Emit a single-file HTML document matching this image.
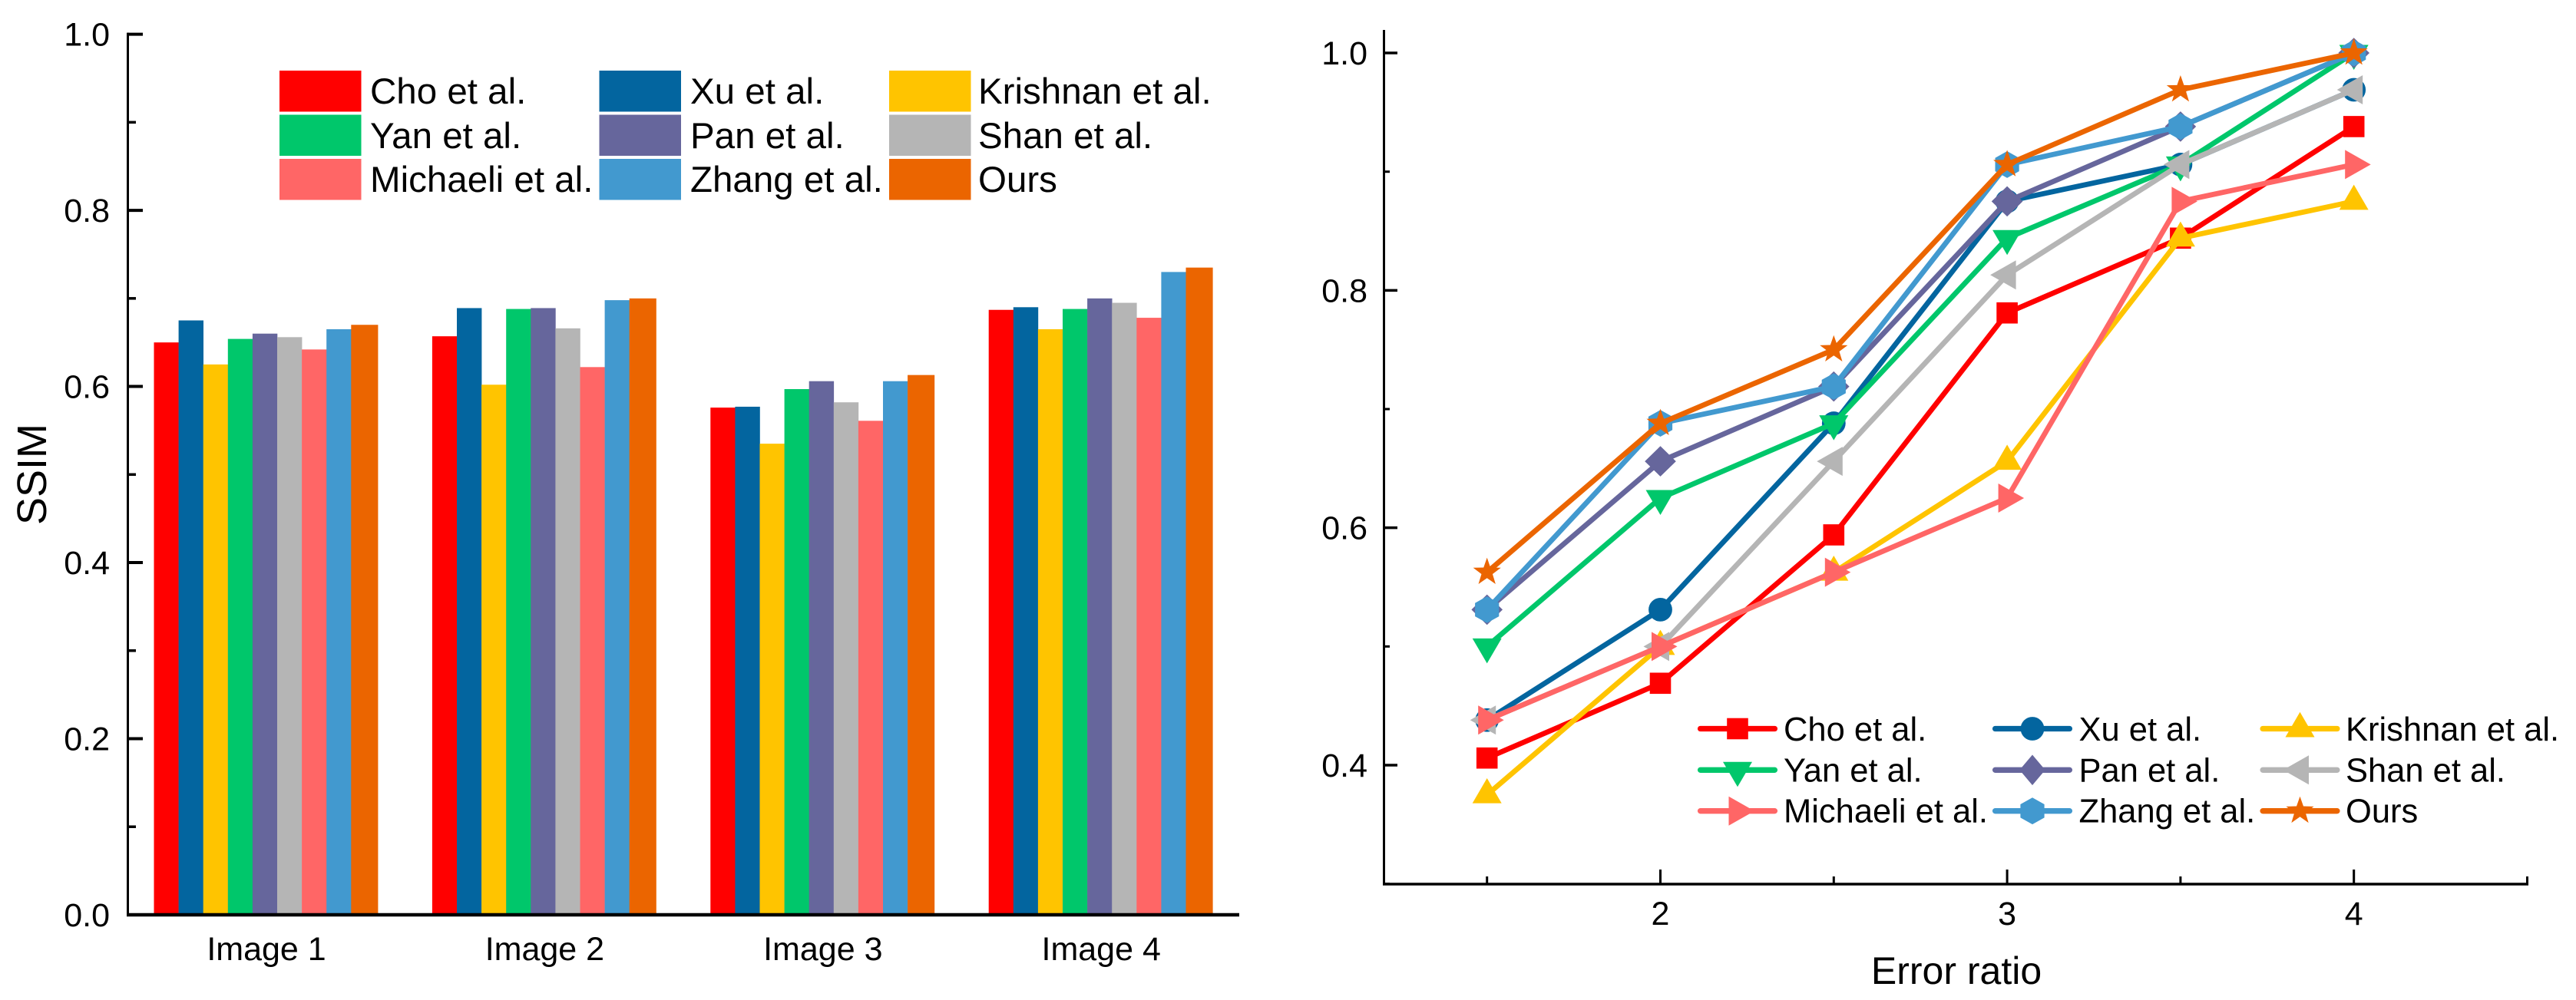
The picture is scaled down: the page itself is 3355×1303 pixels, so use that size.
<!DOCTYPE html>
<html>
<head>
<meta charset="utf-8">
<title>SSIM comparison charts</title>
<style>
html,body{margin:0;padding:0;background:#fff;}
svg{display:block;}
text{font-family:"Liberation Sans",Arial,sans-serif;fill:#000;}
</style>
</head>
<body>
<svg id="figure" xmlns="http://www.w3.org/2000/svg" width="3355" height="1303" viewBox="0 0 3355 1303">
  <g id="bar-chart"></g>
  <g id="line-chart"></g>
</svg>
<script>
// ---- Bar chart data ----
const barCategories = ['Image 1', 'Image 2', 'Image 3', 'Image 4'];
const barCho      = [0.650, 0.657, 0.576, 0.687];
const barXu       = [0.675, 0.689, 0.577, 0.690];
const barKrishnan = [0.625, 0.602, 0.535, 0.665];
const barYan      = [0.654, 0.688, 0.597, 0.688];
const barPan      = [0.660, 0.689, 0.606, 0.700];
const barShan     = [0.656, 0.666, 0.582, 0.695];
const barMichaeli = [0.642, 0.622, 0.561, 0.678];
const barZhang    = [0.665, 0.698, 0.606, 0.730];
const barOurs     = [0.670, 0.700, 0.613, 0.735];
const barTickLabels = ['0.0', '0.2', '0.4', '0.6', '0.8', '1.0'];
const barTickValues = [0, 0.2, 0.4, 0.6, 0.8, 1.0];
const barMinorValues = [0.1, 0.3, 0.5, 0.7, 0.9];

// ---- Line chart data ----
const lineX = [1.5, 2, 2.5, 3, 3.5, 4];
const lineCho      = [0.406, 0.469, 0.594, 0.781, 0.844, 0.938];
const lineXu       = [0.438, 0.531, 0.688, 0.875, 0.906, 0.969];
const lineKrishnan = [0.375, 0.500, 0.5625, 0.656, 0.844, 0.875];
const lineYan      = [0.500, 0.625, 0.688, 0.844, 0.906, 1.000];
const linePan      = [0.531, 0.656, 0.719, 0.875, 0.938, 1.000];
const lineShan     = [0.438, 0.500, 0.656, 0.813, 0.906, 0.969];
const lineMichaeli = [0.438, 0.500, 0.5625, 0.625, 0.875, 0.906];
const lineZhang    = [0.531, 0.688, 0.719, 0.906, 0.938, 1.000];
const lineOurs     = [0.5625, 0.688, 0.750, 0.906, 0.969, 1.000];
const lineYTicks = [0.4, 0.6, 0.8, 1.0];
const lineYTickLabels = ['0.4', '0.6', '0.8', '1.0'];
const lineYMinor = [0.3, 0.5, 0.7, 0.9];
const lineXTicks = [2, 3, 4];
const lineXTickLabels = ['2', '3', '4'];
const lineXMinor = [1.5, 2.5, 3.5, 4.5];

// ---- Series identity ----
const seriesNames = ['Cho et al.', 'Xu et al.', 'Krishnan et al.', 'Yan et al.', 'Pan et al.', 'Shan et al.', 'Michaeli et al.', 'Zhang et al.', 'Ours'];
const seriesColors = ['#FF0000', '#03659F', '#FFC400', '#00C76B', '#66669C', '#B5B5B5', '#FF6666', '#4299CF', '#EB6500'];
const seriesMarkers = ['square', 'circle', 'up', 'down', 'diamond', 'left', 'right', 'hexagon', 'star'];
const barSeries = [barCho, barXu, barKrishnan, barYan, barPan, barShan, barMichaeli, barZhang, barOurs];
const lineSeries = [lineCho, lineXu, lineKrishnan, lineYan, linePan, lineShan, lineMichaeli, lineZhang, lineOurs];

const NS = 'http://www.w3.org/2000/svg';
function mk(tag, attrs, parent) {
  const el = document.createElementNS(NS, tag);
  for (const k in attrs) el.setAttribute(k, attrs[k]);
  parent.appendChild(el);
  return el;
}
function slug(s) { return s.toLowerCase().replace(/[^a-z0-9]+/g, '-').replace(/-$/, ''); }

// ---- Bar chart ----
const barRoot = document.getElementById('bar-chart');
const barY = v => 1192 - v * 1147.4;
const barGroupX = g => 200.5 + g * 362.4;
const barW = 32.1;

barSeries.forEach((vals, s) => {
  vals.forEach((v, g) => {
    const r = mk('rect', {x: barGroupX(g) + s * barW, y: barY(v), width: barW + (s === 8 ? 3 : 0.3), height: barY(0) - barY(v), fill: seriesColors[s]}, barRoot);
    
    
  });
});

const barYAxis = mk('line', {x1: 166.5, x2: 166.5, y1: barY(1) - 2, y2: barY(0) + 2, stroke: '#000', 'stroke-width': 3}, barRoot);


const barXAxis = mk('line', {x1: 165, x2: 1614, y1: 1192, y2: 1192, stroke: '#000', 'stroke-width': 4.5}, barRoot);



barTickValues.forEach((v, i) => {
  const t = mk('line', {x1: 166, x2: 186, y1: barY(v), y2: barY(v), stroke: '#000', 'stroke-width': 4}, barRoot);
  
  
  const l = mk('text', {x: 143, y: barY(v) + 15, 'text-anchor': 'end', 'font-size': 43}, barRoot);
  l.textContent = barTickLabels[i];
  
  
});
barMinorValues.forEach(v => {
  const t = mk('line', {x1: 166, x2: 177, y1: barY(v), y2: barY(v), stroke: '#000', 'stroke-width': 3.5}, barRoot);
  
  
});
barCategories.forEach((c, g) => {
  const l = mk('text', {x: barGroupX(g) + 146.5, y: 1251, 'text-anchor': 'middle', 'font-size': 43}, barRoot);
  l.textContent = c;
  
  
});
const barTitle = mk('text', {x: 0, y: 0, transform: 'translate(60 618) rotate(-90)', 'text-anchor': 'middle', 'font-size': 54}, barRoot);
barTitle.textContent = 'SSIM';



const barLegendX = [364, 780.5, 1158];
const barLegendY = [92, 149.5, 207];
const barLegendBase = [135, 193, 250];
const barLegendTextX = [482, 899, 1274];
seriesNames.forEach((n, s) => {
  const row = Math.floor(s / 3), col = s % 3;
  const g = mk('g', {}, barRoot);
  
  
  const sw = mk('rect', {x: barLegendX[col], y: barLegendY[row], width: 106.5, height: 53.5, fill: seriesColors[s]}, g);
  
  
  const t = mk('text', {x: barLegendTextX[col], y: barLegendBase[row], 'font-size': 47.5}, g);
  t.textContent = n;
  
  
});

// ---- Line chart ----
const lineRoot = document.getElementById('line-chart');
const lx = v => 2162.5 + (v - 2) * 451.6;
const ly = v => 997 + (0.4 - v) * 1546.6;

function drawMarker(kind, cx, cy, color, parent, inLegend) {
  let el;
  const poly = pts => mk('polygon', {points: pts.map(p => (cx + p[0]).toFixed(2) + ',' + (cy + p[1]).toFixed(2)).join(' '), fill: color}, parent);
  if (kind === 'square') el = mk('rect', {x: cx - 13.8, y: cy - 13.8, width: 27.6, height: 27.6, fill: color}, parent);
  else if (kind === 'circle') el = mk('circle', {cx: cx, cy: cy, r: 15.4, fill: color}, parent);
  else if (kind === 'up') el = poly([[0, -21.7], [19, 11], [-19, 11]]);
  else if (kind === 'down') el = poly([[0, 22], [19, -10.5], [-19, -10.5]]);
  else if (kind === 'left') el = poly([[-22, 0], [11.5, -19], [11.5, 19]]);
  else if (kind === 'right') el = poly([[22, 0], [-11.5, -19], [-11.5, 19]]);
  else if (kind === 'diamond') {
    const hw = inLegend ? 16.7 : 20.3;
    el = poly([[0, -19.8], [hw, 0], [0, 19.8], [-hw, 0]]);
  }
  else if (kind === 'hexagon') el = poly([[0, -17.4], [15.6, -8.7], [15.6, 8.7], [0, 17.4], [-15.6, 8.7], [-15.6, -8.7]]);
  else {
    const pts = [];
    for (let i = 0; i < 10; i++) {
      const r = i % 2 ? 7.6 : 19, a = -Math.PI / 2 + i * Math.PI / 5;
      pts.push([r * Math.cos(a), r * Math.sin(a)]);
    }
    el = poly(pts);
  }
  
  
  return el;
}

const lineYAxis = mk('line', {x1: 1802.5, x2: 1802.5, y1: 39, y2: 1153, stroke: '#000', 'stroke-width': 3}, lineRoot);


const lineXAxis = mk('line', {x1: 1801, x2: 3293, y1: 1152, y2: 1152, stroke: '#000', 'stroke-width': 3.5}, lineRoot);



lineYTicks.forEach((v, i) => {
  const t = mk('line', {x1: 1802, x2: 1820, y1: ly(v), y2: ly(v), stroke: '#000', 'stroke-width': 3.5}, lineRoot);
  
  
  const l = mk('text', {x: 1781, y: ly(v) + 15, 'text-anchor': 'end', 'font-size': 43}, lineRoot);
  l.textContent = lineYTickLabels[i];
  
  
});
lineYMinor.forEach(v => {
  const t = mk('line', {x1: 1802, x2: 1810, y1: ly(v), y2: ly(v), stroke: '#000', 'stroke-width': 3}, lineRoot);
  
  
});
lineXTicks.forEach((v, i) => {
  const t = mk('line', {x1: lx(v), x2: lx(v), y1: 1133, y2: 1152, stroke: '#000', 'stroke-width': 3}, lineRoot);
  
  
  const l = mk('text', {x: lx(v), y: 1205, 'text-anchor': 'middle', 'font-size': 43}, lineRoot);
  l.textContent = lineXTickLabels[i];
  
  
});
lineXMinor.forEach(v => {
  const t = mk('line', {x1: lx(v), x2: lx(v), y1: 1142, y2: 1152, stroke: '#000', 'stroke-width': 3}, lineRoot);
  
  
});
const lineTitle = mk('text', {x: 2548, y: 1282, 'text-anchor': 'middle', 'font-size': 50}, lineRoot);
lineTitle.textContent = 'Error ratio';



lineSeries.forEach((vals, s) => {
  const g = mk('g', {}, lineRoot);
  
  
  const p = mk('polyline', {
    points: vals.map((v, i) => lx(lineX[i]).toFixed(2) + ',' + ly(v).toFixed(2)).join(' '),
    fill: 'none', stroke: seriesColors[s], 'stroke-width': 6.8, 'stroke-linejoin': 'round'
  }, g);
  
  
  vals.forEach((v, i) => drawMarker(seriesMarkers[s], lx(lineX[i]), ly(v), seriesColors[s], g, false));
});

const lineLegendX = [2211, 2595, 2943.5];
const lineLegendY = [949.5, 1003.3, 1056.7];
const lineLegendBase = [965, 1018.3, 1071.5];
const lineLegendTextX = [2323, 2707.5, 3055];
seriesNames.forEach((n, s) => {
  const row = Math.floor(s / 3), col = s % 3;
  const g = mk('g', {}, lineRoot);
  
  
  const x0 = lineLegendX[col], y0 = lineLegendY[row];
  const ln = mk('line', {x1: x0 + 3.6, x2: x0 + 100.4, y1: y0, y2: y0, stroke: seriesColors[s], 'stroke-width': 7.3, 'stroke-linecap': 'round'}, g);
  
  
  drawMarker(seriesMarkers[s], x0 + 52, y0, seriesColors[s], g, true);
  const t = mk('text', {x: lineLegendTextX[col], y: lineLegendBase[row], 'font-size': 43.5}, g);
  t.textContent = n;
  
  
});
</script>
</body>
</html>
